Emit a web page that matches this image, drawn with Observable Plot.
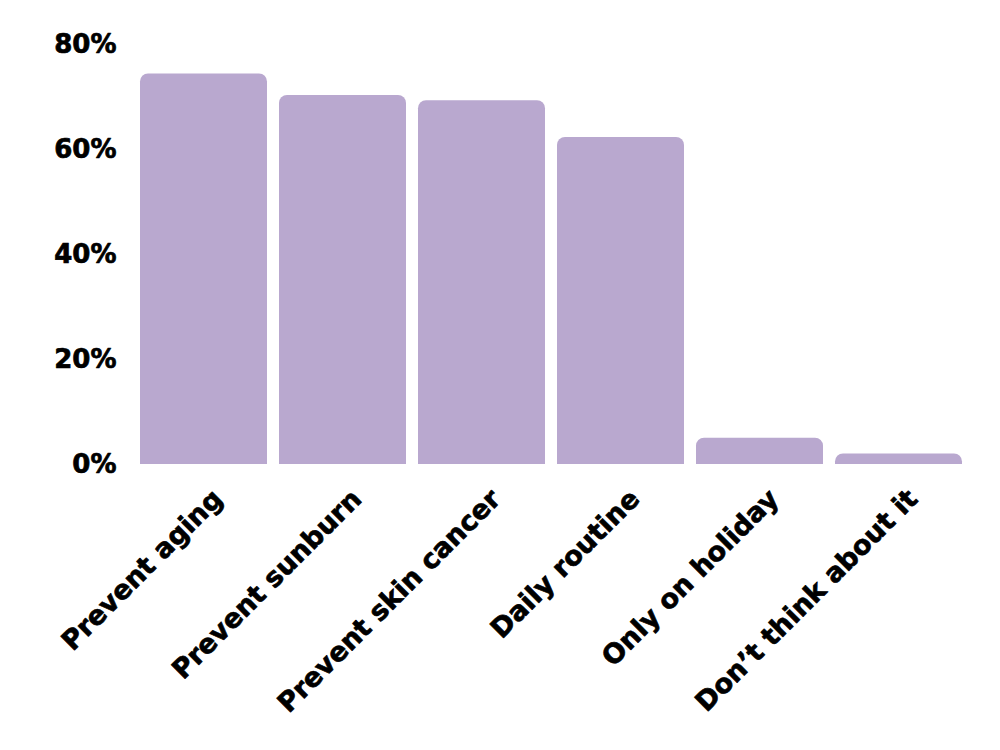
<!DOCTYPE html>
<html>
<head>
<meta charset="utf-8">
<script src="https://cdn.jsdelivr.net/npm/d3@7"></script>
<script src="https://cdn.jsdelivr.net/npm/@observablehq/plot@0.6"></script>
<style>
  html, body { margin: 0; padding: 0; background: #fff; }
  #chart svg { display: block; }
</style>
</head>
<body>
<div id="chart"></div>
<script>
const categories = ["Prevent aging", "Prevent sunburn", "Prevent skin cancer", "Daily routine", "Only on holiday", "Don’t think about it"];
const values = [74.4, 70.3, 69.3, 62.3, 5.0, 2.0];
const yTicks = [0, 20, 40, 60, 80];

const data = categories.map((c, i) => ({category: c, value: values[i]}));

const chart = Plot.plot({
  width: 1000,
  height: 750,
  marginLeft: 138,
  marginRight: 36,
  marginTop: 44,
  marginBottom: 286,
  style: {fontFamily: "'DejaVu Sans', sans-serif", fontSize: "27px", fontWeight: "bold", color: "#000", background: "#fff"},
  x: {domain: categories, paddingInner: 0.083, paddingOuter: 0},
  y: {domain: [0, 80]},
  marks: [
    Plot.barY(data, {x: "category", y: "value", fill: "#b9a8cf", rx1y1: 8, rx2y1: 8}),
    Plot.axisY(yTicks, {tickFormat: d => d + "%", label: null, tickSize: 0, tickPadding: 22, fontSize: 26, fontWeight: "bold", textStroke: "#000", textStrokeWidth: 0.7}),
    Plot.axisX({label: null, tickSize: 0, tickRotate: -45, tickPadding: 30, dx: 14, fontSize: 27, fontWeight: "bold", textStroke: "#000", textStrokeWidth: 0.7})
  ]
});
document.getElementById("chart").appendChild(chart);
</script>
</body>
</html>
